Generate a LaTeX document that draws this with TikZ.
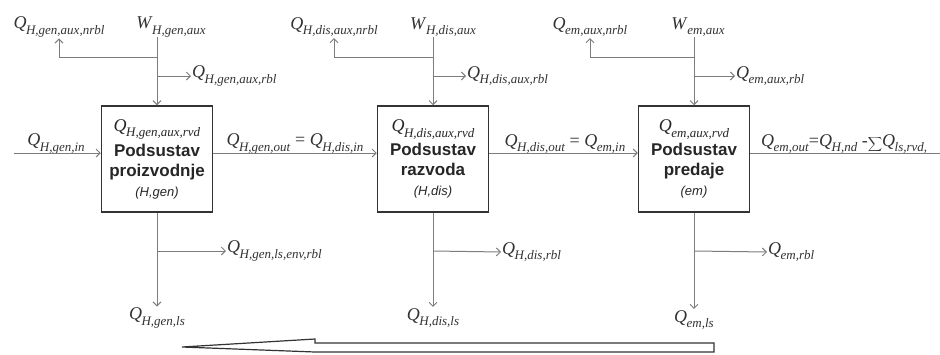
\documentclass[tikz,border=0pt]{standalone}
\usepackage{fontspec}
\setmainfont{Liberation Serif}
\setsansfont{Liberation Sans}
\usetikzlibrary{arrows.meta,positioning}
\definecolor{linegray}{RGB}{125,125,125}
\definecolor{textgray}{RGB}{50,50,50}
\newcommand\flow[2]{\textit{#1}\kern-0.5pt\raisebox{-0.32em}{\fontsize{13}{13}\selectfont\textit{#2}}}
\tikzset{
  sub/.style   = {draw=black!80, line width=1.5pt, minimum width=111pt, minimum height=106pt,
                  inner sep=0pt, align=center, text=black!85,
                  font=\sffamily\bfseries\fontsize{17}{20}\selectfont},
  lbl/.style   = {inner sep=1pt, text=textgray, font=\fontsize{18}{18}\selectfont},
  flowline/.style = {draw=linegray, line width=1pt}
}

\begin{document}
\begin{tikzpicture}[x=1pt,y=-1pt,>={Straight Barb[length=4pt,width=8pt]}]
\useasboundingbox (0,0) rectangle (940,354);

% subsystems: generation, distribution, emission
\node[sub] (gen) at (157,159) {\normalfont\fontsize{18}{18}\selectfont\flow{Q}{H,gen,aux,rvd}\\[3pt]
  Podsustav\\ proizvodnje\\ \mdseries\itshape\fontsize{13}{13}\selectfont (H,gen)};
\node[sub] (dis) at (433,159) {\normalfont\fontsize{18}{18}\selectfont\flow{Q}{H,dis,aux,rvd}\\[3pt]
  Podsustav\\ razvoda\\ \mdseries\itshape\fontsize{13}{13}\selectfont (H,dis)};
\node[sub] (em) at (694,159) {\normalfont\fontsize{18}{18}\selectfont\flow{Q}{em,aux,rvd}\\[3pt]
  Podsustav\\ predaje\\ \mdseries\itshape\fontsize{13}{13}\selectfont (em)};

% auxiliary energy on top
\node[lbl] (wgen) at (171,27) {\flow{W}{H,gen,aux}};
\node[lbl] (ngen) at (59,27) {\flow{Q}{H,gen,aux,nrbl}};
\node[lbl, anchor=west] (rgen) at (191,76) {\flow{Q}{H,gen,aux,rbl}};
\node[lbl] (wdis) at (443,27) {\flow{W}{H,dis,aux}};
\node[lbl] (ndis) at (334,27) {\flow{Q}{H,dis,aux,nrbl}};
\node[lbl, anchor=west] (rdis) at (466,76) {\flow{Q}{H,dis,aux,rbl}};
\node[lbl] (wem) at (698,27) {\flow{W}{em,aux}};
\node[lbl] (nem) at (590,27) {\flow{Q}{em,aux,nrbl}};
\node[lbl, anchor=west] (rem) at (735,76) {\flow{Q}{em,aux,rbl}};

% losses below
\node[lbl, anchor=west] (egen) at (226,251) {\flow{Q}{H,gen,ls,env,rbl}};
\node[lbl] (lgen) at (157,318) {\flow{Q}{H,gen,ls}};
\node[lbl, anchor=west] (edis) at (501,252) {\flow{Q}{H,dis,rbl}};
\node[lbl] (ldis) at (433,318) {\flow{Q}{H,dis,ls}};
\node[lbl, anchor=west] (eem) at (767,252) {\flow{Q}{em,rbl}};
\node[lbl] (lem) at (694,320) {\flow{Q}{em,ls}};

% main heat flow
\coordinate (in) at (14,153);
\coordinate (out) at (940,153);
\node[lbl] (igen) at (56,144) {\flow{Q}{H,gen,in}};
\node[lbl] (ogen) at (295,144) {\flow{Q}{H,gen,out} = \flow{Q}{H,dis,in}};
\node[lbl] (odis) at (565,144) {\flow{Q}{H,dis,out} = \flow{Q}{em,in}};
\node[lbl, anchor=west] (oem) at (760,144) {\flow{Q}{em,out}=\flow{Q}{H,nd}
  -\raisebox{-0.1em}{\fontsize{15}{15}\selectfont$\displaystyle\sum$}\flow{Q}{ls,rvd,}};

\draw[flowline,->] (in) -- (in -| gen.west);
\draw[flowline,->] (in -| gen.east) -- (in -| dis.west);
\draw[flowline,->] (in -| dis.east) -- (in -| em.west);
\draw[flowline] (in -| em.east) -- (out);

\foreach \s in {gen,dis,em}{
  \coordinate (top\s) at (\s.north |- 0,37);
  \coordinate (up\s) at (\s.north |- 0,57);
  \coordinate (rt\s) at (\s.north |- 0,76);
  \coordinate (lo\s) at (\s.south |- 0,251);
  \draw[flowline,->] (top\s) -- (\s.north);
  \draw[flowline,->] (up\s) -| (n\s.south);
  \draw[flowline,->] (rt\s) -- (r\s.west);
  \draw[flowline,->] (\s.south) -- (l\s.north);
  \draw[flowline,->] (lo\s) -- (e\s.west);
}

% direction of calculation
\draw[black!80, line width=1.2pt, fill=white] (182,347) -- (315,339) -- (315,343) -- (714,343)
  -- (714,352) -- (315,352) -- cycle;
\end{tikzpicture}
\end{document}
